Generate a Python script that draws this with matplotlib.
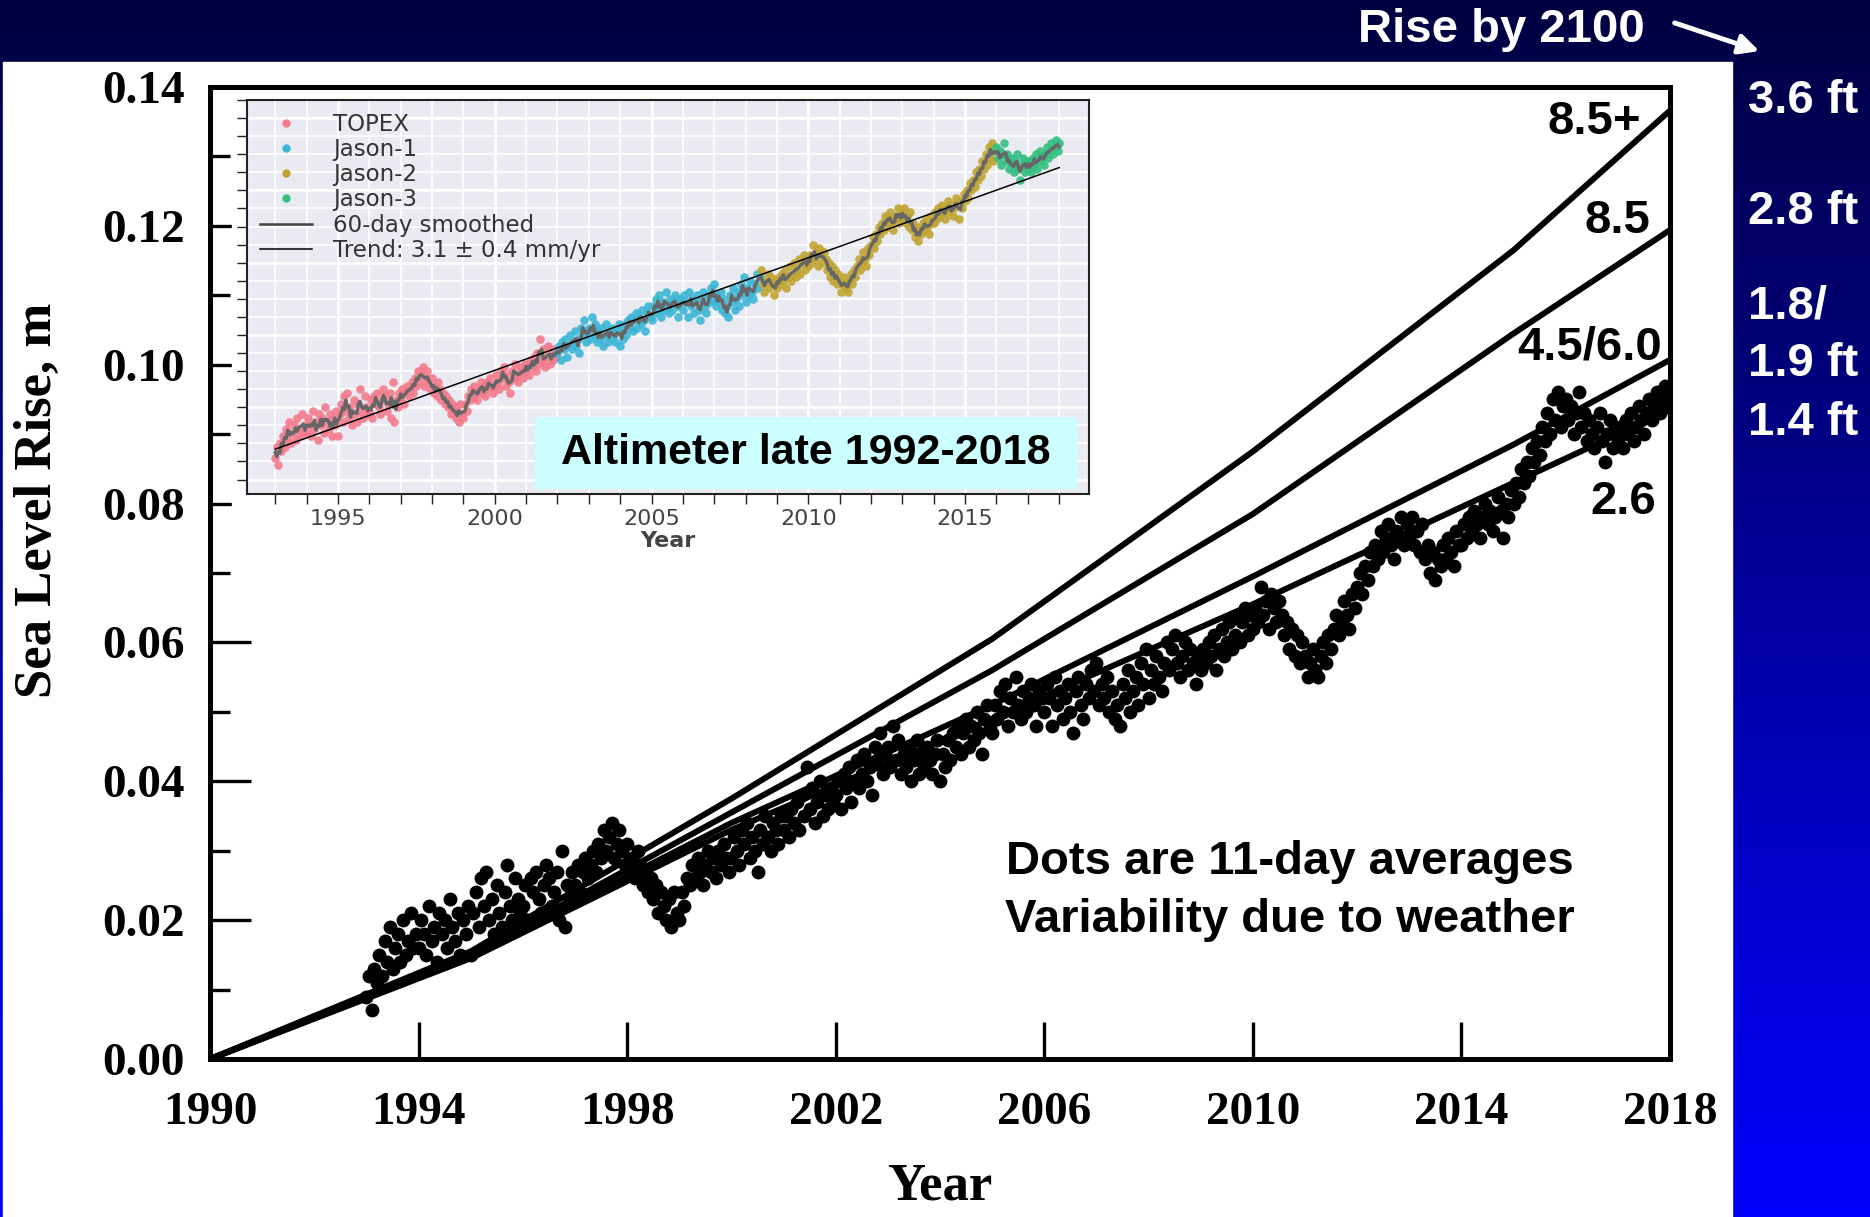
import numpy as np
import pandas as pd
import matplotlib
matplotlib.use("Agg")
import matplotlib.pyplot as plt
from matplotlib.patches import Rectangle, FancyArrowPatch
from matplotlib.lines import Line2D
from matplotlib.colors import LinearSegmentedColormap
from matplotlib.ticker import MultipleLocator, FormatStrFormatter

W, H = 1870, 1217

# 11-day averages, mm, 20 per year starting 1993.0
dots_1993 = [9, 12, 7, 13, 11, 15, 12, 17, 14, 19, 13, 16, 18, 14, 20, 15, 17, 21, 16, 18]
dots_1994 = [16, 20, 18, 15, 22, 17, 19, 14, 21, 18, 20, 16, 23, 19, 17, 21, 15, 20, 18, 22]
dots_1995 = [15, 21, 24, 19, 26, 22, 27, 20, 23, 18, 25, 21, 19, 24, 28, 22, 20, 26, 23, 21]
dots_1996 = [22, 25, 20, 26, 24, 27, 23, 21, 25, 28, 26, 22, 24, 27, 20, 30, 19, 25, 23, 27]
dots_1997 = [25, 28, 24, 27, 29, 26, 28, 30, 27, 31, 29, 33, 30, 32, 34, 29, 31, 33, 30, 28]
dots_1998 = [31, 27, 29, 26, 30, 28, 25, 27, 24, 26, 23, 25, 21, 24, 22, 20, 23, 19, 24, 21]
dots_1999 = [20, 24, 22, 26, 25, 28, 26, 29, 27, 25, 28, 30, 27, 29, 26, 30, 28, 31, 29, 27]
dots_2000 = [29, 32, 30, 28, 33, 31, 34, 29, 32, 30, 27, 33, 31, 35, 32, 30, 34, 33, 31, 35]
dots_2001 = [33, 35, 32, 36, 34, 37, 33, 38, 35, 42, 36, 39, 34, 37, 40, 35, 38, 36, 39, 37]
dots_2002 = [38, 40, 36, 41, 39, 42, 37, 40, 43, 39, 41, 44, 40, 42, 38, 45, 43, 47, 41, 44]
dots_2003 = [45, 42, 48, 43, 46, 41, 44, 42, 45, 40, 43, 46, 41, 44, 42, 45, 43, 41, 44, 46]
dots_2004 = [40, 44, 42, 46, 43, 47, 45, 48, 44, 47, 49, 45, 48, 46, 50, 47, 44, 49, 51, 48]
dots_2005 = [47, 51, 49, 53, 50, 54, 48, 52, 50, 55, 51, 49, 53, 50, 52, 54, 51, 48, 53, 52]
dots_2006 = [50, 54, 52, 48, 55, 51, 53, 49, 52, 54, 50, 47, 53, 55, 51, 49, 54, 52, 56, 53]
dots_2007 = [57, 51, 54, 52, 55, 50, 53, 49, 51, 48, 54, 52, 56, 50, 53, 55, 51, 57, 54, 59]
dots_2008 = [52, 56, 54, 58, 55, 53, 57, 60, 56, 59, 61, 57, 55, 58, 60, 56, 59, 57, 54, 58]
dots_2009 = [56, 59, 57, 60, 58, 61, 56, 59, 62, 58, 60, 63, 59, 61, 64, 60, 63, 65, 61, 64]
dots_2010 = [62, 65, 63, 68, 64, 66, 62, 67, 65, 63, 66, 64, 61, 63, 59, 62, 58, 61, 57, 60]
dots_2011 = [58, 55, 57, 59, 56, 55, 58, 60, 57, 61, 59, 62, 64, 61, 63, 66, 64, 62, 67, 65]
dots_2012 = [68, 70, 67, 71, 69, 73, 71, 74, 72, 76, 73, 75, 77, 74, 72, 76, 75, 78, 74, 77]
dots_2013 = [75, 78, 74, 76, 73, 77, 72, 74, 70, 73, 69, 72, 71, 74, 72, 75, 73, 71, 76, 74]
dots_2014 = [74, 77, 75, 78, 76, 79, 77, 75, 78, 80, 77, 79, 76, 78, 81, 79, 75, 80, 78, 82]
dots_2015 = [80, 83, 81, 85, 83, 86, 84, 88, 86, 89, 87, 91, 89, 93, 90, 95, 92, 96, 91, 94]
dots_2016 = [95, 92, 94, 90, 93, 96, 91, 93, 89, 92, 90, 88, 91, 93, 89, 86, 90, 92, 88, 91]
dots_2017 = [89, 91, 88, 92, 90, 93, 89, 91, 94, 92, 90, 93, 95, 92, 94, 96, 93, 95, 97, 94]
dots_2018 = [96]

dots_mm = np.array(dots_1993 + dots_1994 + dots_1995 + dots_1996 + dots_1997 + dots_1998
                   + dots_1999 + dots_2000 + dots_2001 + dots_2002 + dots_2003 + dots_2004
                   + dots_2005 + dots_2006 + dots_2007 + dots_2008 + dots_2009 + dots_2010
                   + dots_2011 + dots_2012 + dots_2013 + dots_2014 + dots_2015 + dots_2016
                   + dots_2017 + dots_2018, dtype=float)
dot_years = 1993 + np.arange(len(dots_mm)) * 0.05

# scenario curves (m)
scen_years = [1990, 1995, 2000, 2005, 2010, 2015, 2018]
scen_85plus = [0, 0.0155, 0.0375, 0.0605, 0.0875, 0.1165, 0.1366]
scen_85 = [0, 0.0150, 0.0355, 0.0560, 0.0785, 0.1045, 0.1194]
scen_45 = [0, 0.0148, 0.0340, 0.0510, 0.0695, 0.0885, 0.1007]
scen_26 = [0, 0.0145, 0.0330, 0.0490, 0.0655, 0.0830, 0.0935]
scen_labels = ["8.5+", "8.5", "4.5/6.0", "2.6"]
rise_2100 = ["3.6 ft", "2.8 ft", "1.8/", "1.9 ft", "1.4 ft"]

# inset
missions = ["TOPEX", "Jason-1", "Jason-2", "Jason-3"]
mission_start = [1992.9, 2002.0, 2008.5, 2016.0]
mission_colors = ["#f47a8c", "#3cb6d6", "#c0a432", "#33bf80"]
trend_years = [1993, 2018]
trend_mm = [11.4, 89.3]
inset_offset = -3

plt.rcParams['font.family'] = ['Liberation Serif', 'DejaVu Sans']

fig = plt.figure(figsize=(W / 100, H / 100), dpi=100)

def fx(x):
    return x / W

def fy(y):
    return 1 - y / H

# background: blue gradient + white panel
bg = fig.add_axes([0, 0, 1, 1], zorder=-10)
cmap = LinearSegmentedColormap.from_list("bg", ["#000040", "#0000ff"])
bg.imshow(np.linspace(0, 1, 256).reshape(-1, 1), aspect='auto', cmap=cmap,
          extent=[0, 1, 0, 1], origin='upper')
bg.add_patch(Rectangle((3 / W, 0), (1732 - 3) / W, fy(62), color='white'))
bg.set_xlim(0, 1)
bg.set_ylim(0, 1)
bg.axis('off')

# main axes
ax = fig.add_axes([fx(210), fy(1059), 1460 / W, 972 / H], zorder=0)
ax.set_facecolor('white')
for y in [scen_85plus, scen_85, scen_45, scen_26]:
    ax.plot(scen_years, y, color='black', lw=4.3, zorder=2, solid_capstyle='round')
ax.scatter(dot_years, dots_mm / 1000, s=100, color='black', lw=0, zorder=3)

ax.set_xlim(1990, 2018)
ax.set_ylim(0, 0.14)
ax.set_xticks(range(1990, 2019, 4))
ax.yaxis.set_major_locator(MultipleLocator(0.02))
ax.yaxis.set_minor_locator(MultipleLocator(0.01))
ax.yaxis.set_major_formatter(FormatStrFormatter('%.2f'))
ax.tick_params(axis='both', which='major', direction='in', width=2.4, labelsize=34)
ax.tick_params(axis='y', which='major', length=29.5, pad=18)
ax.tick_params(axis='y', which='minor', length=14.4, width=2.4, direction='in')
ax.tick_params(axis='x', which='major', length=27, pad=24)
for lbl in ax.get_xticklabels() + ax.get_yticklabels():
    lbl.set_fontweight('bold')
for s in ax.spines.values():
    s.set_linewidth(3.6)

ax.set_xlabel("Year", fontsize=38, fontweight='bold')
ax.xaxis.label.set_va('center')
ax.xaxis.set_label_coords(0.5, (1059 - 1187) / 972)
ax.set_ylabel("Sea Level Rise, m", fontsize=38, fontweight='bold')
ax.yaxis.label.set_va('center')
ax.yaxis.set_label_coords((38 - 210) / 1460, (1059 - 500) / 972)

sans = 'Liberation Sans'
for lab, (x, y) in zip(scen_labels, [(1594, 122), (1617, 221), (1590, 348), (1623, 502)]):
    fig.text(fx(x), fy(y), lab, fontsize=34, fontweight='bold', family=sans,
             ha='center', va='center', zorder=5)
fig.text(fx(1290), fy(862), "Dots are 11-day averages", fontsize=34, fontweight='bold',
         family=sans, ha='center', va='center', zorder=5)
fig.text(fx(1290), fy(920), "Variability due to weather", fontsize=34, fontweight='bold',
         family=sans, ha='center', va='center', zorder=5)

# banner + right column
fig.text(fx(1501), fy(30), "Rise by 2100", fontsize=34, fontweight='bold', family=sans,
         color='white', ha='center', va='center')
fig.add_artist(FancyArrowPatch((fx(1672), fy(22)), (fx(1762), fy(52)),
                               transform=fig.transFigure, arrowstyle='-|>',
                               mutation_scale=30, color='white', lw=3.5))
for lab, y in zip(rise_2100, [101, 212, 307, 364, 423]):
    fig.text(fx(1748), fy(y), lab, fontsize=34, fontweight='bold', family=sans,
             color='white', ha='left', va='center')

# white backing of the inset picture
fig.add_artist(Rectangle((fx(232), fy(552)), (1100 - 232) / W, (552 - 91) / H,
                         transform=fig.transFigure, color='white', zorder=0.5))

# inset
ins = fig.add_axes([fx(247), fy(494), 842 / W, 394 / H], zorder=1)
ins.set_facecolor('#eaeaf2')
ins.set_axisbelow(True)
ins.set_xlim(1992.1, 2018.95)
ins.set_ylim(-4, 105)
ins.xaxis.set_major_locator(MultipleLocator(5))
ins.xaxis.set_minor_locator(MultipleLocator(1))
ins.yaxis.set_major_locator(MultipleLocator(20))
ins.yaxis.set_minor_locator(MultipleLocator(5))
ins.grid(which='major', color='white', lw=2.0)
ins.grid(which='minor', color='white', lw=1.2)
ins.tick_params(which='both', direction='out', length=7, width=1, color='#222',
                labelsize=16, labelcolor='#444', labelleft=False)
for lbl in ins.get_xticklabels():
    lbl.set_family('DejaVu Sans')
for s in ins.spines.values():
    s.set_color('#222')
    s.set_linewidth(1.5)

inset_vals = dots_mm + inset_offset
bounds = mission_start + [2100]
handles = []
for i, name in enumerate(missions):
    m = (dot_years >= bounds[i]) & (dot_years < bounds[i + 1])
    ins.scatter(dot_years[m], inset_vals[m], s=38, color=mission_colors[i], lw=0,
                alpha=0.9, zorder=2)
    handles.append(Line2D([], [], ls='none', marker='o', ms=6, mec='none',
                          color=mission_colors[i], label=name))
smooth = pd.Series(inset_vals).rolling(3, center=True, min_periods=1).mean()
ins.plot(dot_years, smooth, color='#666666', lw=2.4, zorder=3)
ins.plot(trend_years, np.array(trend_mm) + inset_offset, color='black', lw=1.1, zorder=4)
handles.append(Line2D([], [], color='#444444', lw=1.8, label="60-day smoothed"))
handles.append(Line2D([], [], color='black', lw=1.1, label="Trend: 3.1 \u00b1 0.4 mm/yr"))
leg = ins.legend(handles=handles, loc='upper left', frameon=False,
                 prop={'family': 'DejaVu Sans', 'size': 16.5}, labelcolor='#333333',
                 handlelength=2.3, handletextpad=0.9, labelspacing=0.1,
                 borderaxespad=0.25, borderpad=0.3)

ins.set_xlabel("Year", fontsize=16, fontweight='bold', color='#444', family='DejaVu Sans',
               labelpad=2)

ins.add_patch(Rectangle((0.342, 0.013), 0.644, 0.182, transform=ins.transAxes,
                        facecolor='#ccffff', edgecolor='none', zorder=5))
ins.text(0.664, 0.104, "Altimeter late 1992-2018", transform=ins.transAxes,
         fontsize=31, fontweight='bold', family=sans, ha='center', va='center', zorder=6)

fig.savefig("out.png", dpi=100)
